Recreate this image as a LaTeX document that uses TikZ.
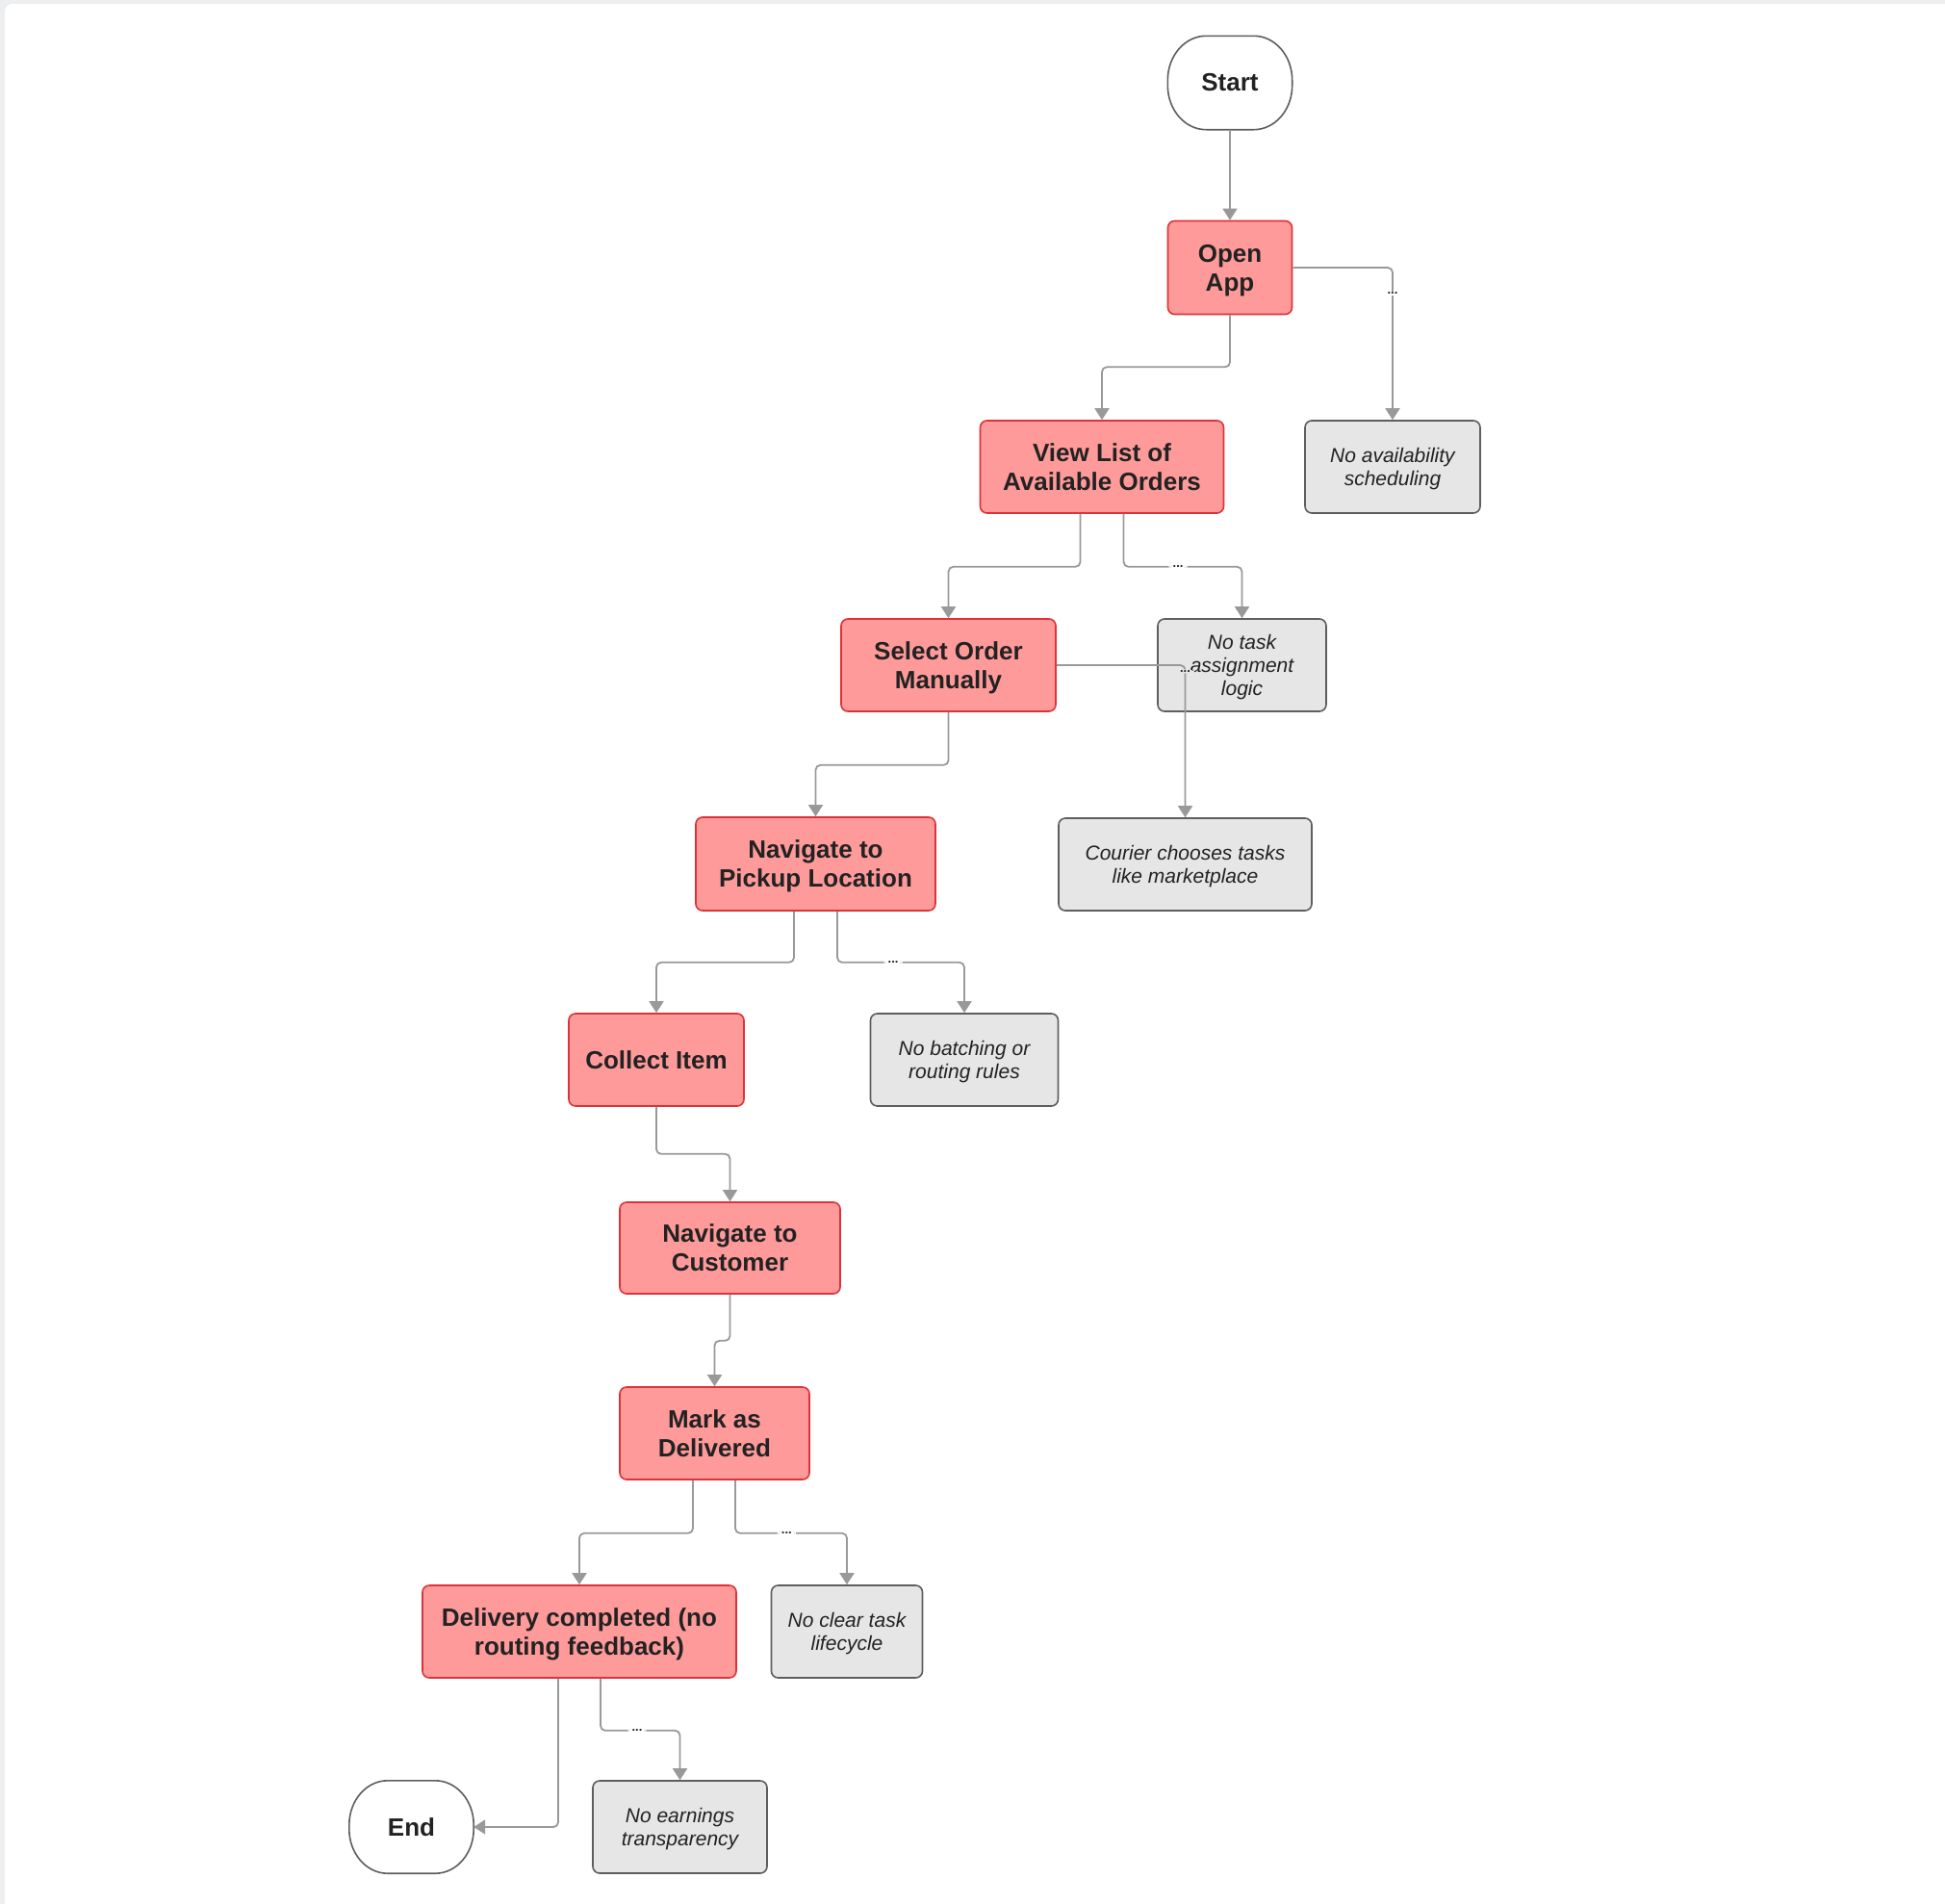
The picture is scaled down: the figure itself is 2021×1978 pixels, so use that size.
\documentclass[tikz,border=0pt]{standalone}
\usepackage{fontspec}
\setmainfont{Liberation Sans}
\usetikzlibrary{arrows.meta,calc}
\definecolor{redfill}{HTML}{FF9A9A}
\definecolor{redline}{HTML}{DD3338}
\definecolor{grayfill}{HTML}{E6E6E6}
\definecolor{grayline}{HTML}{5E5E5E}
\definecolor{conncol}{HTML}{999999}
\definecolor{txt}{HTML}{222222}
\definecolor{framecol}{HTML}{EDEEF0}
\pgfdeclarelayer{framelayer}
\pgfdeclarelayer{bglayer}
\pgfsetlayers{framelayer,bglayer,main}
\newcommand\termoutline[1]{%
  \draw[draw=grayline,line width=1.6pt,fill=white]
    ($(#1.north west)+(40,0)$) -- ($(#1.north east)+(-40,0)$)
    arc[start angle=-90,end angle=0,x radius=40,y radius=46]
    -- ($(#1.south east)+(0,-46)$)
    arc[start angle=0,end angle=90,x radius=40,y radius=46]
    -- ($(#1.south west)+(40,0)$)
    arc[start angle=90,end angle=180,x radius=40,y radius=46]
    -- ($(#1.north west)+(0,46)$)
    arc[start angle=180,end angle=270,x radius=40,y radius=46]
    -- cycle;}
\begin{document}
\begin{tikzpicture}[x=1pt,y=-1pt,
  stepbox/.style={draw=redline,fill=redfill,line width=1.6pt,rounded corners=7pt,
    inner sep=0pt,align=center,text=txt,text depth=0pt,font=\fontsize{26}{30}\selectfont\bfseries},
  notebox/.style={draw=grayline,fill=grayfill,line width=1.6pt,rounded corners=7pt,
    inner sep=0pt,align=center,text=txt,text depth=0pt,font=\fontsize{21}{24}\selectfont\itshape},
  termbox/.style={inner sep=0pt,align=center,text=txt,font=\fontsize{26}{30}\selectfont\bfseries},
  conn/.style={draw=conncol,line width=1.8pt,rounded corners=5pt,
    -{Triangle[width=15pt,length=12pt]}},
  dots/.style={fill=white,inner xsep=4pt,inner ysep=1pt,text=txt,
    font=\fontsize{13}{13}\selectfont\bfseries},
]
\useasboundingbox (0,0) rectangle (2021,1978);
\clip (0,0) rectangle (2021,1978);
\begin{pgfonlayer}{framelayer}
\fill[framecol] (0,0) rectangle (2021,1978);
\fill[white,rounded corners=8pt] (5,4) rectangle (2060,2030);
\end{pgfonlayer}

% nodes
\node[termbox,minimum width=129pt,minimum height=97pt] (start) at (1278,86) {Start};
\node[stepbox,minimum width=129pt,minimum height=97pt] (open) at (1278,278) {Open\\App};
\node[notebox,minimum width=182pt,minimum height=96pt] (noavail) at (1447,485) {No availability\\scheduling};
\node[stepbox,minimum width=253pt,minimum height=96pt] (view) at (1145,485) {View List of\\Available Orders};
\node[stepbox,minimum width=223pt,minimum height=96pt] (select) at (985.5,691) {Select Order\\Manually};
\node[notebox,minimum width=175pt,minimum height=96pt] (notask) at (1290.5,691) {No task\\assignment\\logic};
\node[notebox,minimum width=263pt,minimum height=96pt] (courier) at (1231.5,898) {Courier chooses tasks\\like marketplace};
\node[stepbox,minimum width=249pt,minimum height=97pt] (navpick) at (847.5,897.5) {Navigate to\\Pickup Location};
\node[stepbox,minimum width=182pt,minimum height=96pt] (collect) at (682,1101) {Collect Item};
\node[notebox,minimum width=195pt,minimum height=96pt] (nobatch) at (1002,1101) {No batching or\\routing rules};
\node[stepbox,minimum width=229pt,minimum height=95pt] (navcust) at (758.5,1296.5) {Navigate to\\Customer};
\node[stepbox,minimum width=197pt,minimum height=96pt] (mark) at (742.5,1489) {Mark as\\Delivered};
\node[stepbox,minimum width=326pt,minimum height=96pt] (delivery) at (602,1695) {Delivery completed (no\\routing feedback)};
\node[notebox,minimum width=157pt,minimum height=96pt] (noclear) at (880,1695) {No clear task\\lifecycle};
\node[termbox,minimum width=129pt,minimum height=96pt] (end) at (427.5,1898) {End};
\node[notebox,minimum width=181pt,minimum height=96pt] (noearn) at (706.5,1898) {No earnings\\transparency};

\begin{pgfonlayer}{bglayer}
\termoutline{start}
\termoutline{end}
\end{pgfonlayer}

% connectors
\draw[conn] (start.south) -- (open.north);
\draw[conn] (open.south) -- ++(0,54) -| (view.north);
\draw[conn] (open.east) -| (noavail.north) node[dots,pos=0.585] {...};
\draw[conn] ([xshift=-22.5pt]view.south) -- ++(0,55) -| (select.north);
\draw[conn] ([xshift=22.5pt]view.south) -- ++(0,55) -| (notask.north) node[dots,pos=0.23] {...};
\draw[conn] (select.east) -| (courier.north) node[dots,fill=grayfill,pos=0.52] {...};
\draw[conn] (select.south) -- ++(0,55) -| (navpick.north);
\draw[conn] ([xshift=-22.5pt]navpick.south) -- ++(0,53) -| (collect.north);
\draw[conn] ([xshift=22.5pt]navpick.south) -- ++(0,53) -| (nobatch.north) node[dots,pos=0.22] {...};
\draw[conn] (collect.south) -- ++(0,49) -| (navcust.north);
\draw[conn] (navcust.south) -- ++(0,48) -| (mark.north);
\draw[conn] ([xshift=-22.5pt]mark.south) -- ++(0,55) -| (delivery.north);
\draw[conn] ([xshift=21.5pt]mark.south) -- ++(0,55) -| (noclear.north) node[dots,pos=0.23] {...};
\draw[conn] ([xshift=-22pt]delivery.south) |- (end.east);
\draw[conn] ([xshift=22pt]delivery.south) -- ++(0,54) -| (noearn.north) node[dots,pos=0.23] {...};
\end{tikzpicture}
\end{document}
